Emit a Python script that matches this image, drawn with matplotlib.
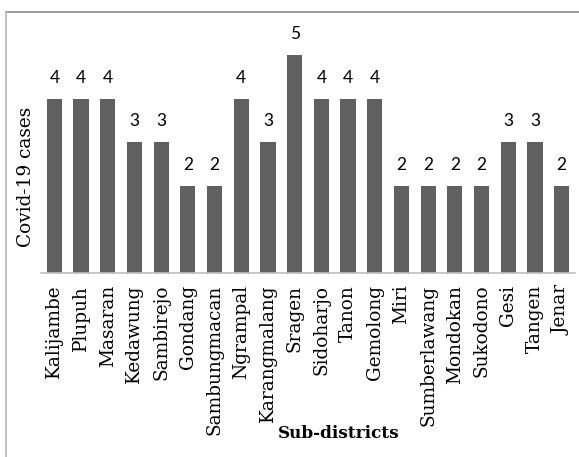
import matplotlib.pyplot as plt
from matplotlib.lines import Line2D

# cases per sub-district
subdistricts = [
    "Kalijambe", "Plupuh", "Masaran", "Kedawung", "Sambirejo", "Gondang",
    "Sambungmacan", "Ngrampal", "Karangmalang", "Sragen", "Sidoharjo",
    "Tanon", "Gemolong", "Miri", "Sumberlawang", "Mondokan", "Sukodono",
    "Gesi", "Tangen", "Jenar",
]
cases = [4, 4, 4, 3, 3, 2, 2, 4, 3, 5, 4, 4, 4, 2, 2, 2, 2, 3, 3, 2]

SERIF = "DejaVu Serif"
W, H = 579, 457
fig = plt.figure(figsize=(W / 100, H / 100), dpi=100)
fig.patch.set_facecolor("white")

# plot area in pixel terms, converted to figure fractions
left, right, top, bottom = 41, 575, 12, 273
ax = fig.add_axes([left / W, 1 - bottom / H, (right - left) / W, (bottom - top) / H])

x = range(len(cases))
bars = ax.bar(x, cases, width=0.57, color="#606060", zorder=2)
for rect, v in zip(bars, cases):
    ax.annotate(str(v), (rect.get_x() + rect.get_width() / 2, v),
                xytext=(0, 9.5), textcoords="offset points",
                ha="center", va="bottom", fontsize=12.5,
                family=["Lato", "DejaVu Sans"], color="#000000")

ax.set_xlim(-0.5, len(cases) - 0.5)
ax.set_ylim(0, 6)
ax.set_yticks([])
ax.set_xticks(list(x))
ax.set_xticklabels(subdistricts, rotation=90, family=SERIF,
                   fontsize=13.3, color="#000000")
ax.tick_params(axis="x", length=0, pad=8.5)

for side in ("top", "right", "left"):
    ax.spines[side].set_visible(False)
ax.spines["bottom"].set_color("#bfbfbf")
ax.spines["bottom"].set_linewidth(1.2)

fig.text(26 / W, 1 - 177 / H, "Covid-19 cases", rotation=90,
         ha="center", va="center", family=SERIF, fontsize=13.3,
         color="#000000")
fig.text(339 / W, 1 - 433 / H, "Sub-districts", ha="center", va="center",
         family=SERIF, fontweight="bold", fontsize=12.2, color="#000000")

# chart frame
fig.add_artist(Line2D([6 / W, 1], [1 - 12 / H] * 2, transform=fig.transFigure,
                      color="#8c8c8c", linewidth=1.2))
fig.add_artist(Line2D([6 / W] * 2, [0, 1 - 12 / H], transform=fig.transFigure,
                      color="#b4b4b4", linewidth=1.2))

fig.savefig("out.png", dpi=100)
